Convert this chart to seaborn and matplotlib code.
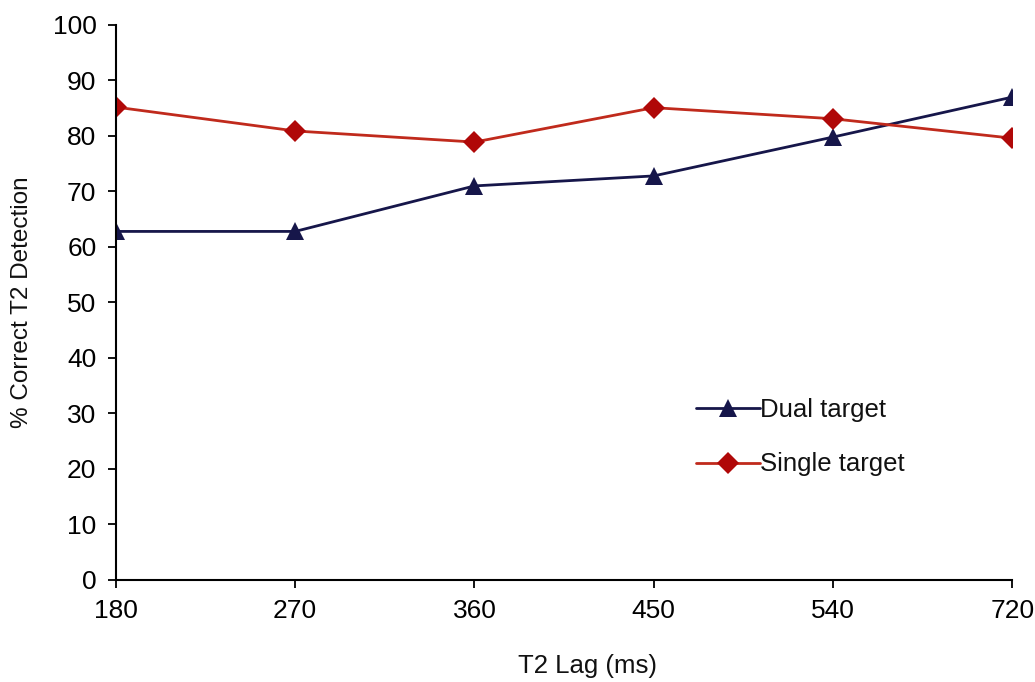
import matplotlib
matplotlib.use("Agg")
import matplotlib.pyplot as plt
import seaborn as sns
import pandas as pd

lags = ["180", "270", "360", "450", "540", "720"]
dual_target = [62.8, 62.8, 71.0, 72.8, 79.8, 87.0]
single_target = [85.2, 80.9, 78.9, 85.1, 83.1, 79.6]
series_names = ["Dual target", "Single target"]

df = pd.DataFrame({
    "lag": lags * 2,
    "value": dual_target + single_target,
    "series": [series_names[0]] * len(lags) + [series_names[1]] * len(lags),
})

sns.set_theme(style="white")
plt.rcParams["font.family"] = ["Liberation Sans", "DejaVu Sans"]
plt.rcParams["text.color"] = "#111111"
plt.rcParams["axes.labelcolor"] = "#111111"
plt.rcParams["xtick.color"] = "black"
plt.rcParams["ytick.color"] = "black"

fig = plt.figure(figsize=(10.35, 6.82), dpi=100)
ax = fig.add_axes([0.112, 0.1496, 0.866, 0.8138])

palette = {"Dual target": "#16164a", "Single target": "#c02a1c"}
markers = {"Dual target": "^", "Single target": "D"}
sns.lineplot(data=df, x="lag", y="value", hue="series", style="series",
             palette=palette, markers=markers, dashes=False, linewidth=2.0,
             markersize=13, markeredgewidth=0, ax=ax, sort=False)
for line in ax.lines:
    if line.get_marker() == "D":
        line.set_markerfacecolor("#b00808")
        line.set_markersize(11)

ax.set_xlim(0, len(lags) - 1)
ax.set_ylim(0, 100)
ax.set_yticks(range(0, 101, 10))
ax.set_xlabel("T2 Lag (ms)", fontsize=18.5, labelpad=22)
ax.xaxis.label.set_x(0.526)
ax.set_ylabel("% Correct T2 Detection", fontsize=17.5, labelpad=14)
ax.tick_params(axis="both", which="major", labelsize=19, direction="out",
               length=6, width=1.3, bottom=True, left=True, pad=8)
for s in ["top", "right"]:
    ax.spines[s].set_visible(False)
for s in ["left", "bottom"]:
    ax.spines[s].set_color("black")
    ax.spines[s].set_linewidth(1.5)

handles, labels = ax.get_legend_handles_labels()
for h in handles:
    if h.get_marker() == "D":
        h.set_markerfacecolor("#b00808")
        h.set_markersize(11)
leg = ax.legend(handles, labels, loc="center left", bbox_to_anchor=(0.621, 0.257),
                frameon=False, fontsize=18.5, handlelength=2.5, handletextpad=0.0,
                labelspacing=1.18)

fig.savefig("out.png", dpi=100)
